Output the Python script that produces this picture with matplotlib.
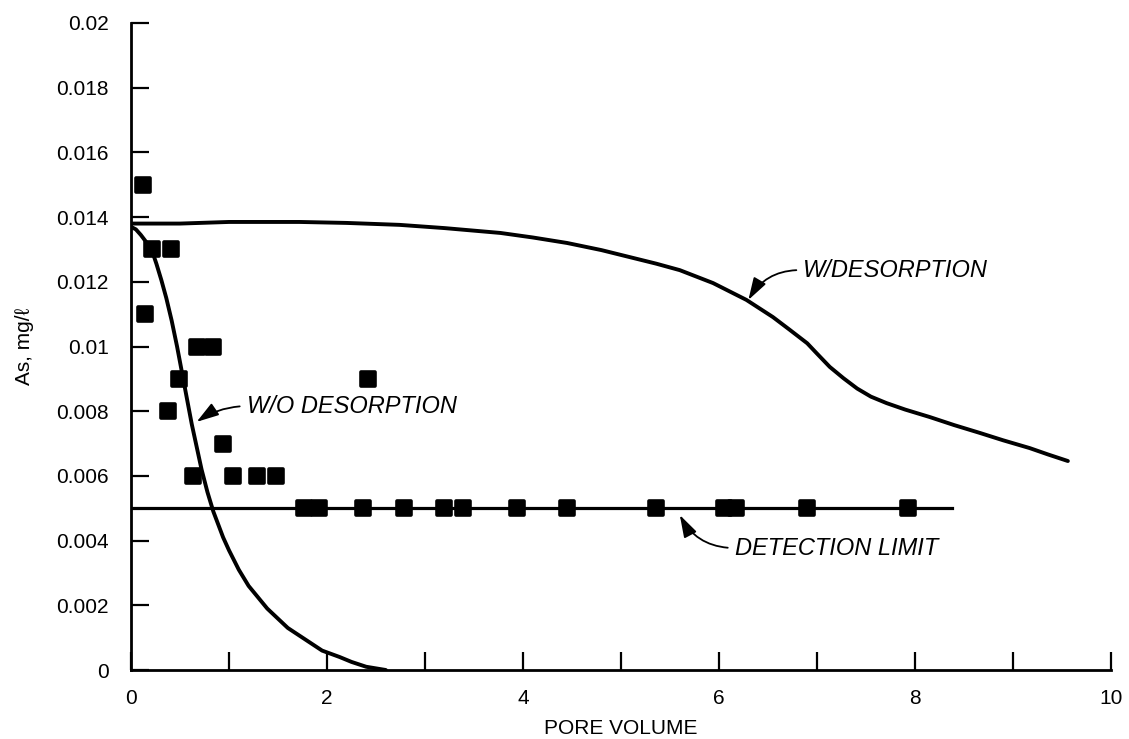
import matplotlib
matplotlib.use("Agg")
import matplotlib.pyplot as plt
from matplotlib.markers import MarkerStyle

plt.rcParams["font.family"] = ["Liberation Sans", "DejaVu Sans"]

# measured samples (pore volume, As mg/l)
SAMPLE_X = [0.12, 0.14, 0.21, 0.41, 0.38, 0.49, 0.67, 0.84, 0.63, 0.94,
            1.04, 1.29, 1.48, 2.42,
            1.77, 1.92, 2.37, 2.79, 3.19, 3.39, 3.94, 4.45, 5.36, 6.05,
            6.17, 6.90, 7.93]
SAMPLE_Y = [0.015, 0.011, 0.013, 0.013, 0.008, 0.009, 0.010, 0.010, 0.006, 0.007,
            0.006, 0.006, 0.006, 0.009,
            0.005, 0.005, 0.005, 0.005, 0.005, 0.005, 0.005, 0.005, 0.005, 0.005,
            0.005, 0.005, 0.005]

# model curve without desorption
WO_X = [0, 0.05, 0.10, 0.15, 0.21, 0.26, 0.31, 0.36, 0.415, 0.47, 0.52,
        0.57, 0.62, 0.67, 0.72, 0.78, 0.84, 0.89, 0.94, 1.00, 1.10, 1.20,
        1.39, 1.60, 1.80, 1.95, 2.13, 2.25, 2.40, 2.60]
WO_Y = [0.0137, 0.01362, 0.01345, 0.01325, 0.0130, 0.01255, 0.01205, 0.0115,
        0.0108, 0.0100, 0.0092, 0.0084, 0.0076, 0.0069, 0.0062, 0.0055,
        0.0049, 0.0045, 0.0041, 0.0037, 0.0031, 0.0026, 0.0019, 0.0013,
        0.0009, 0.0006, 0.0004, 0.00025, 0.0001, 0.0]

# model curve with desorption
W_X = [0, 0.5, 1.0, 1.72, 2.2, 2.74, 3.2, 3.77, 4.1, 4.45, 4.8, 5.12, 5.36,
       5.60, 5.94, 6.28, 6.55, 6.72, 6.90, 7.0, 7.13, 7.27, 7.41, 7.55, 7.71,
       7.9, 8.15, 8.4, 8.66, 8.9, 9.17, 9.36, 9.56]
W_Y = [0.0138, 0.0138, 0.01385, 0.01385, 0.01382, 0.01376, 0.01366, 0.01351,
       0.01337, 0.0132, 0.01298, 0.01274, 0.01256, 0.01236, 0.01196, 0.01144,
       0.01091, 0.01052, 0.0101, 0.00978, 0.00937, 0.00902, 0.0087, 0.00845,
       0.00825, 0.00805, 0.00782, 0.00757, 0.00733, 0.0071, 0.00686, 0.00666,
       0.00646]

DETECTION_X = [0, 8.38]
DETECTION_Y = [0.005, 0.005]

X_TICKS = list(range(11))
X_TICK_LABELS = ["0", "", "2", "", "4", "", "6", "", "8", "", "10"]
Y_TICKS = [0, 0.002, 0.004, 0.006, 0.008, 0.01, 0.012, 0.014, 0.016, 0.018, 0.02]
Y_TICK_LABELS = ["0", "0.002", "0.004", "0.006", "0.008", "0.01", "0.012",
                 "0.014", "0.016", "0.018", "0.02"]

ARROW = "-|>,head_length=0.8,head_width=0.25"


def main() -> None:
    fig = plt.figure(figsize=(11.29, 7.39), dpi=100)
    ax = fig.add_axes([131 / 1129, 69 / 739, 980 / 1129, 647 / 739])

    ax.plot(W_X, W_Y, color="black", linewidth=2.8, solid_capstyle="round",
            solid_joinstyle="round")
    ax.plot(WO_X, WO_Y, color="black", linewidth=2.8, solid_capstyle="round",
            solid_joinstyle="round")
    ax.plot(DETECTION_X, DETECTION_Y, color="black", linewidth=2.3)
    ax.scatter(SAMPLE_X, SAMPLE_Y, marker=MarkerStyle("s", joinstyle="round"),
               s=110, color="black", linewidths=2.6, zorder=3)

    italic = dict(fontsize=17, style="italic", va="center", ha="left")
    ax.annotate("W/DESORPTION", xy=(6.30, 0.01144), xytext=(6.86, 0.01236),
                arrowprops=dict(arrowstyle=ARROW, color="black", lw=1.3,
                                relpos=(0, 0.5), shrinkA=3, shrinkB=0,
                                connectionstyle="arc3,rad=0.3"), **italic)
    ax.annotate("W/O DESORPTION", xy=(0.67, 0.00767), xytext=(1.18, 0.00816),
                arrowprops=dict(arrowstyle=ARROW, color="black", lw=1.3,
                                relpos=(0, 0.5), shrinkA=3, shrinkB=0,
                                connectionstyle="arc3,rad=0.15"), **italic)
    ax.annotate("DETECTION LIMIT", xy=(5.60, 0.00479), xytext=(6.16, 0.00377),
                arrowprops=dict(arrowstyle=ARROW, color="black", lw=1.3,
                                relpos=(0, 0.5), shrinkA=3, shrinkB=0,
                                connectionstyle="arc3,rad=-0.3"), **italic)

    ax.set_xlim(0, 10)
    ax.set_ylim(0, 0.02)
    ax.set_xticks(X_TICKS)
    ax.set_xticklabels(X_TICK_LABELS)
    ax.set_yticks(Y_TICKS)
    ax.set_yticklabels(Y_TICK_LABELS)
    ax.tick_params(axis="both", direction="in", length=13, width=1.6,
                   labelsize=15, color="black")
    ax.tick_params(axis="x", pad=14)
    ax.tick_params(axis="y", pad=16)

    for side in ("top", "right"):
        ax.spines[side].set_visible(False)
    for side in ("left", "bottom"):
        ax.spines[side].set_linewidth(2.0)

    ax.set_xlabel("PORE VOLUME", fontsize=15, va="center")
    ax.xaxis.set_label_coords(0.5, (670 - 728) / 647)
    ax.set_ylabel("As, mg/\u2113", fontsize=15, va="center")
    ax.yaxis.set_label_coords((25 - 131) / 980, 0.5)

    fig.savefig("out.png", dpi=100)
    plt.close(fig)


if __name__ == "__main__":
    main()
